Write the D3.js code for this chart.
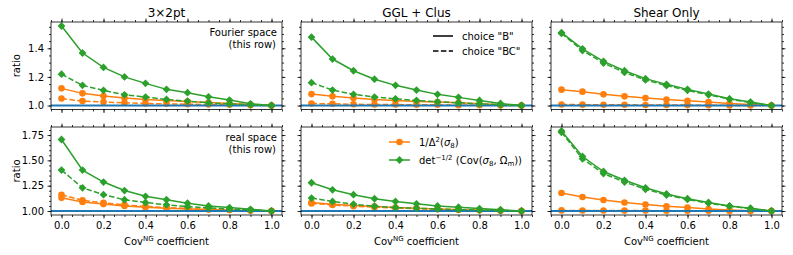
<!DOCTYPE html>
<html lang="en">
<head>
<meta charset="UTF-8">
<title>ratio vs CovNG coefficient</title>
<style>
  body { margin: 0; background: #fff; }
  svg { font-family: "DejaVu Sans", sans-serif; }
  .spine { fill: none; stroke: #000; stroke-width: 0.8; }
  .axis path { display: none; }
  .axis line { stroke: #000; stroke-width: 0.8; }
  .axis text { font-size: 10px; fill: #000; font-family: "DejaVu Sans", sans-serif; }
  .lbl { font-size: 10px; fill: #000; }
</style>
</head>
<body>
<svg></svg>
<script src="https://d3js.org/d3.v7.min.js"></script>
<script>
// x values: NG covariance coefficient
var coef = [0.0, 0.1, 0.2, 0.3, 0.4, 0.5, 0.6, 0.7, 0.8, 0.9, 1.0];
var probes = ["3\u00d72pt", "GGL + Clus", "Shear Only"];
var rowNames = ["Fourier space", "real space"];

// Fourier space row, one array per probe (3x2pt, GGL+Clus, Shear)
var fourierSigmaB = [
  [1.120, 1.085, 1.066, 1.052, 1.042, 1.035, 1.028, 1.021, 1.014, 1.007, 1.0],
  [1.080, 1.064, 1.052, 1.042, 1.035, 1.028, 1.024, 1.019, 1.012, 1.005, 1.0],
  [1.111, 1.097, 1.078, 1.064, 1.052, 1.042, 1.033, 1.024, 1.014, 1.007, 1.0]
];
var fourierSigmaBC = [
  [1.049, 1.031, 1.024, 1.019, 1.014, 1.012, 1.009, 1.007, 1.005, 1.002, 1.0],
  [1.014, 1.012, 1.009, 1.007, 1.007, 1.005, 1.005, 1.002, 1.002, 1.001, 1.0],
  [1.007, 1.006, 1.005, 1.005, 1.004, 1.004, 1.003, 1.002, 1.001, 1.001, 1.0]
];
var fourierDetB = [
  [1.556, 1.367, 1.266, 1.200, 1.155, 1.113, 1.090, 1.061, 1.038, 1.012, 1.0],
  [1.478, 1.325, 1.243, 1.184, 1.141, 1.108, 1.078, 1.057, 1.035, 1.014, 1.0],
  [1.509, 1.396, 1.309, 1.243, 1.188, 1.148, 1.113, 1.080, 1.047, 1.024, 1.0]
];
var fourierDetBC = [
  [1.219, 1.141, 1.106, 1.075, 1.059, 1.042, 1.031, 1.019, 1.012, 1.005, 1.0],
  [1.160, 1.108, 1.078, 1.059, 1.047, 1.035, 1.026, 1.019, 1.012, 1.005, 1.0],
  [1.504, 1.384, 1.297, 1.231, 1.179, 1.139, 1.106, 1.075, 1.045, 1.021, 1.0]
];

// real space row
var realSigmaB = [
  [1.130, 1.090, 1.068, 1.050, 1.038, 1.028, 1.020, 1.014, 1.009, 1.004, 1.0],
  [1.084, 1.067, 1.054, 1.044, 1.034, 1.027, 1.020, 1.013, 1.010, 1.003, 1.0],
  [1.178, 1.138, 1.108, 1.084, 1.064, 1.047, 1.034, 1.020, 1.010, 1.003, 1.0]
];
var realSigmaBC = [
  [1.160, 1.105, 1.080, 1.060, 1.045, 1.035, 1.025, 1.018, 1.012, 1.006, 1.0],
  [1.075, 1.060, 1.048, 1.038, 1.030, 1.024, 1.018, 1.012, 1.008, 1.004, 1.0],
  [1.006, 1.005, 1.005, 1.004, 1.004, 1.003, 1.003, 1.002, 1.001, 1.001, 1.0]
];
var realDetB = [
  [1.706, 1.404, 1.286, 1.202, 1.145, 1.111, 1.077, 1.050, 1.034, 1.017, 1.0],
  [1.279, 1.209, 1.161, 1.121, 1.094, 1.071, 1.050, 1.037, 1.024, 1.013, 1.0],
  [1.790, 1.538, 1.390, 1.303, 1.229, 1.168, 1.121, 1.084, 1.050, 1.027, 1.0]
];
var realDetBC = [
  [1.404, 1.229, 1.161, 1.111, 1.084, 1.061, 1.044, 1.030, 1.020, 1.010, 1.0],
  [1.128, 1.094, 1.067, 1.047, 1.034, 1.027, 1.020, 1.013, 1.010, 1.003, 1.0],
  [1.777, 1.515, 1.370, 1.286, 1.215, 1.158, 1.114, 1.077, 1.047, 1.024, 1.0]
];

var xTicks = [0.0, 0.2, 0.4, 0.6, 0.8, 1.0];
var yTicksTop = [1.0, 1.2, 1.4];
var yTicksBottom = [1.00, 1.25, 1.50, 1.75];

var C_ORANGE = "#ff7f0e", C_GREEN = "#2ca02c", C_BLUE = "#1f77b4";

var width = 793, height = 255;
var svg = d3.select("svg").attr("width", width).attr("height", height);

var colX = [51, 301, 551], panelW = 231;
var rowY = [22, 127], rowH = [87.5, 88];

var rows = [
  {sB: fourierSigmaB, sBC: fourierSigmaBC, dB: fourierDetB, dBC: fourierDetBC, ticks: yTicksTop, fmt: d3.format(".1f")},
  {sB: realSigmaB, sBC: realSigmaBC, dB: realDetB, dBC: realDetBC, ticks: yTicksBottom, fmt: d3.format(".2f")}
];

var diamond = function(h) { return "M0," + (-h) + "L" + h + ",0L0," + h + "L" + (-h) + ",0Z"; };

function minorTicks(dom, step) {
  var out = [];
  var start = Math.ceil(dom[0] / step - 1e-9) * step;
  for (var v = start; v <= dom[1] + 1e-9; v += step) out.push(+v.toFixed(4));
  return out;
}

var x = d3.scaleLinear().domain([-0.05, 1.05]).range([0, panelW]);

rows.forEach(function(row, r) {
  // shared y range for the row, padded 5% like matplotlib
  var all = d3.merge([].concat(row.sB, row.sBC, row.dB, row.dBC));
  var lo = d3.min(all), hi = d3.max(all), pad = (hi - lo) * 0.05;
  var y = d3.scaleLinear().domain([lo - pad, hi + pad]).range([rowH[r], 0]);
  var yMinor = minorTicks(y.domain(), 0.05);
  var xMinor = minorTicks(x.domain(), 0.05);

  probes.forEach(function(name, p) {
    var g = svg.append("g").attr("transform", "translate(" + colX[p] + "," + rowY[r] + ")");

    // minor ticks
    g.append("g").attr("class", "axis").call(d3.axisLeft(y).tickValues(yMinor).tickSize(2).tickFormat(""));
    g.append("g").attr("class", "axis").attr("transform", "translate(" + panelW + ",0)")
      .call(d3.axisRight(y).tickValues(yMinor).tickSize(2).tickFormat(""));
    g.append("g").attr("class", "axis").call(d3.axisTop(x).tickValues(xMinor).tickSize(2).tickFormat(""));
    g.append("g").attr("class", "axis").attr("transform", "translate(0," + rowH[r] + ")")
      .call(d3.axisBottom(x).tickValues(xMinor).tickSize(2).tickFormat(""));

    // major ticks
    g.append("g").attr("class", "axis")
      .call(d3.axisLeft(y).tickValues(row.ticks).tickSize(3.5).tickPadding(3.5)
        .tickFormat(p === 0 ? row.fmt : ""));
    g.append("g").attr("class", "axis").attr("transform", "translate(" + panelW + ",0)")
      .call(d3.axisRight(y).tickValues(row.ticks).tickSize(3.5).tickFormat(""));
    g.append("g").attr("class", "axis").call(d3.axisTop(x).tickValues(xTicks).tickSize(3.5).tickFormat(""));
    g.append("g").attr("class", "axis").attr("transform", "translate(0," + rowH[r] + ")")
      .call(d3.axisBottom(x).tickValues(xTicks).tickSize(3.5).tickPadding(3.5)
        .tickFormat(r === 1 ? d3.format(".1f") : ""));

    var line = d3.line().x(function(d, i) { return x(coef[i]); }).y(function(d) { return y(d); });

    function series(vals, color, dashed, marker) {
      g.append("path").datum(vals).attr("d", line)
        .attr("fill", "none").attr("stroke", color).attr("stroke-width", 1.5)
        .attr("stroke-dasharray", dashed ? "5.5,2.4" : null);
      if (marker === "o") {
        g.selectAll(null).data(vals).enter().append("circle")
          .attr("cx", function(d, i) { return x(coef[i]); })
          .attr("cy", function(d) { return y(d); })
          .attr("r", 3.3).attr("fill", color);
      } else {
        g.selectAll(null).data(vals).enter().append("path")
          .attr("transform", function(d, i) { return "translate(" + x(coef[i]) + "," + y(d) + ")"; })
          .attr("d", diamond(3.9)).attr("fill", color);
      }
    }

    series(row.sB[p], C_ORANGE, false, "o");
    series(row.sBC[p], C_ORANGE, true, "o");

    // reference line at ratio = 1
    g.append("line").attr("x1", 0).attr("x2", panelW).attr("y1", y(1)).attr("y2", y(1))
      .attr("stroke", C_BLUE).attr("stroke-width", 2);

    series(row.dB[p], C_GREEN, false, "D");
    series(row.dBC[p], C_GREEN, true, "D");

    g.append("rect").attr("class", "spine").attr("width", panelW).attr("height", rowH[r]);

    if (r === 0) {
      g.append("text").attr("x", panelW / 2).attr("y", -5).attr("text-anchor", "middle")
        .attr("font-size", "12px").text(name);
    }
    if (r === 1) {
      var xl = g.append("text").attr("class", "lbl").attr("x", panelW / 2).attr("y", rowH[r] + 30)
        .attr("text-anchor", "middle");
      xl.append("tspan").text("Cov");
      xl.append("tspan").attr("dy", -4).attr("font-size", "7px").text("NG");
      xl.append("tspan").attr("dy", 4).text(" coefficient");
    }
    if (p === 0) {
      g.append("text").attr("class", "lbl").attr("text-anchor", "middle")
        .attr("transform", "translate(-31," + (rowH[r] / 2) + ") rotate(-90)").text("ratio");
      var note = g.append("text").attr("class", "lbl").attr("text-anchor", "end");
      note.append("tspan").attr("x", panelW - 5).attr("y", 14).text(rowNames[r]);
      note.append("tspan").attr("x", panelW - 6).attr("y", 25.5).text("(this row)");
    }

    // legends in middle column
    if (p === 1 && r === 0) {
      var lg = g.append("g").attr("transform", "translate(132,14)");
      [["choice \"B\"", null], ["choice \"BC\"", "5.5,2.4"]].forEach(function(it, i) {
        lg.append("line").attr("x1", 0).attr("x2", 20).attr("y1", i * 15).attr("y2", i * 15)
          .attr("stroke", "#000").attr("stroke-width", 1.5).attr("stroke-dasharray", it[1]);
        lg.append("text").attr("class", "lbl").attr("x", 29).attr("y", i * 15 + 3.6).text(it[0]);
      });
    }
    if (p === 1 && r === 1) {
      var lg2 = g.append("g").attr("transform", "translate(88,15)");
      lg2.append("line").attr("x1", 0).attr("x2", 21).attr("y1", 0).attr("y2", 0)
        .attr("stroke", C_ORANGE).attr("stroke-width", 1.5);
      lg2.append("circle").attr("cx", 10.5).attr("cy", 0).attr("r", 3.3).attr("fill", C_ORANGE);
      lg2.append("line").attr("x1", 0).attr("x2", 21).attr("y1", 18).attr("y2", 18)
        .attr("stroke", C_GREEN).attr("stroke-width", 1.5);
      lg2.append("path").attr("transform", "translate(10.5,18)").attr("d", diamond(3.9)).attr("fill", C_GREEN);

      var t1 = lg2.append("text").attr("class", "lbl").attr("x", 30).attr("y", 3.6);
      t1.append("tspan").text("1/\u0394");
      t1.append("tspan").attr("dy", -4).attr("font-size", "7px").text("2");
      t1.append("tspan").attr("dy", 4).text("(");
      t1.append("tspan").attr("font-style", "italic").text("\u03c3");
      t1.append("tspan").attr("dy", 2).attr("font-size", "7px").text("8");
      t1.append("tspan").attr("dy", -2).text(")");

      var t2 = lg2.append("text").attr("class", "lbl").attr("x", 30).attr("y", 21.6);
      t2.append("tspan").text("det");
      t2.append("tspan").attr("dy", -4).attr("font-size", "7px").text("\u22121/2");
      t2.append("tspan").attr("dy", 4).text(" (Cov(");
      t2.append("tspan").attr("font-style", "italic").text("\u03c3");
      t2.append("tspan").attr("dy", 2).attr("font-size", "7px").text("8");
      t2.append("tspan").attr("dy", -2).text(", \u03a9");
      t2.append("tspan").attr("dy", 2).attr("font-size", "7px").text("m");
      t2.append("tspan").attr("dy", -2).text("))");
    }
  });
});
</script>
</body>
</html>
